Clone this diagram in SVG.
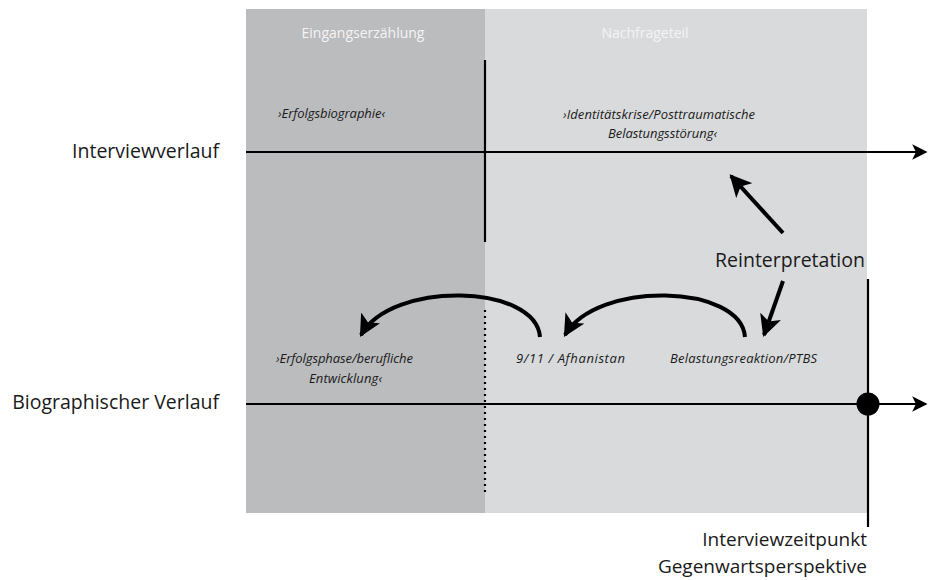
<svg xmlns="http://www.w3.org/2000/svg" width="928" height="580" viewBox="0 0 928 580">
  <defs>
    <style>
      .lbl { font-family: "Open Sans", "Noto Sans", sans-serif; fill: #1a1a1a; }
      .big { font-size: 19.5px; }
      .foot { font-size: 19px; }
      .it { font-size: 13px; font-style: italic; }
      .hdr { font-family: "Open Sans", "Noto Sans", sans-serif; font-size: 14px; fill: #f4f4f4; }
      .ln { stroke: #000; stroke-width: 2.2; fill: none; }
      .arc { stroke: #000; stroke-width: 4; fill: none; }
    </style>
    <marker id="head" viewBox="0 0 10 10" refX="9" refY="5" markerWidth="5.5" markerHeight="5.5" orient="auto" markerUnits="strokeWidth">
      <path d="M0,0 L10,5 L0,10 L2.5,5 Z" fill="#000"/>
    </marker>
    <marker id="headAxis" viewBox="0 0 10 10" refX="9" refY="5" markerWidth="7" markerHeight="7" orient="auto" markerUnits="strokeWidth">
      <path d="M0,0 L10,5 L0,10 L2.5,5 Z" fill="#000"/>
    </marker>
  </defs>

  <!-- phase backgrounds -->
  <g id="phase-eingang">
    <rect x="246" y="9" width="239" height="504" fill="#bbbcbe"/>
    <text class="hdr" x="363" y="38" text-anchor="middle">Eingangserzählung</text>
  </g>
  <g id="phase-nachfrage">
    <rect x="485" y="9" width="382" height="504" fill="#d9dadc"/>
    <text class="hdr" x="645" y="38" text-anchor="middle">Nachfrageteil</text>
  </g>

  <!-- axes, dividers and reinterpretation arrows -->
  <g id="connectors">
    <line class="ln" x1="485" y1="60" x2="485" y2="242"/>
    <line class="ln" x1="485" y1="310" x2="485" y2="496" stroke-dasharray="2 4" stroke="#111"/>
    <line class="ln" x1="246" y1="152" x2="926" y2="152" marker-end="url(#headAxis)"/>
    <line class="ln" x1="246" y1="404" x2="926" y2="404" marker-end="url(#headAxis)"/>
    <line class="ln" x1="868" y1="279" x2="868" y2="527" stroke-width="2.6"/>
    <circle cx="868" cy="404" r="11.5" fill="#000"/>
    <path class="arc" d="M540,337 C536,284 392,280 361,335" marker-end="url(#head)"/>
    <path class="arc" d="M745,337 C741,284 597,280 565,335" marker-end="url(#head)"/>
    <line class="arc" x1="783" y1="233" x2="731" y2="176" marker-end="url(#head)"/>
    <line class="arc" x1="783" y1="281" x2="764" y2="335" marker-end="url(#head)"/>
  </g>

  <g id="axis-labels">
    <text class="lbl big" x="219" y="158" text-anchor="end">Interviewverlauf</text>
    <text class="lbl big" x="219" y="409" text-anchor="end">Biographischer Verlauf</text>
  </g>

  <g id="node-erfolgsbiographie">
    <text class="lbl it" x="278" y="118" textLength="107">›Erfolgsbiographie‹</text>
  </g>
  <g id="node-identitaetskrise">
    <text class="lbl it" x="563" y="119" textLength="192">›Identitätskrise/Posttraumatische</text>
    <text class="lbl it" x="608" y="138" textLength="109">Belastungsstörung‹</text>
  </g>
  <g id="node-reinterpretation">
    <text class="lbl big" x="790" y="267" text-anchor="middle">Reinterpretation</text>
  </g>
  <g id="node-erfolgsphase">
    <text class="lbl it" x="276" y="363" textLength="137">›Erfolgsphase/berufliche</text>
    <text class="lbl it" x="309" y="383" textLength="73">Entwicklung‹</text>
  </g>
  <g id="node-afghanistan">
    <text class="lbl it" x="516" y="363" textLength="109">9/11 / Afhanistan</text>
  </g>
  <g id="node-belastung">
    <text class="lbl it" x="670" y="363" textLength="147">Belastungsreaktion/PTBS</text>
  </g>
  <g id="node-interviewzeitpunkt">
    <text class="lbl foot" x="867" y="546" text-anchor="end">Interviewzeitpunkt</text>
    <text class="lbl foot" x="867" y="573" text-anchor="end">Gegenwartsperspektive</text>
  </g>
</svg>
